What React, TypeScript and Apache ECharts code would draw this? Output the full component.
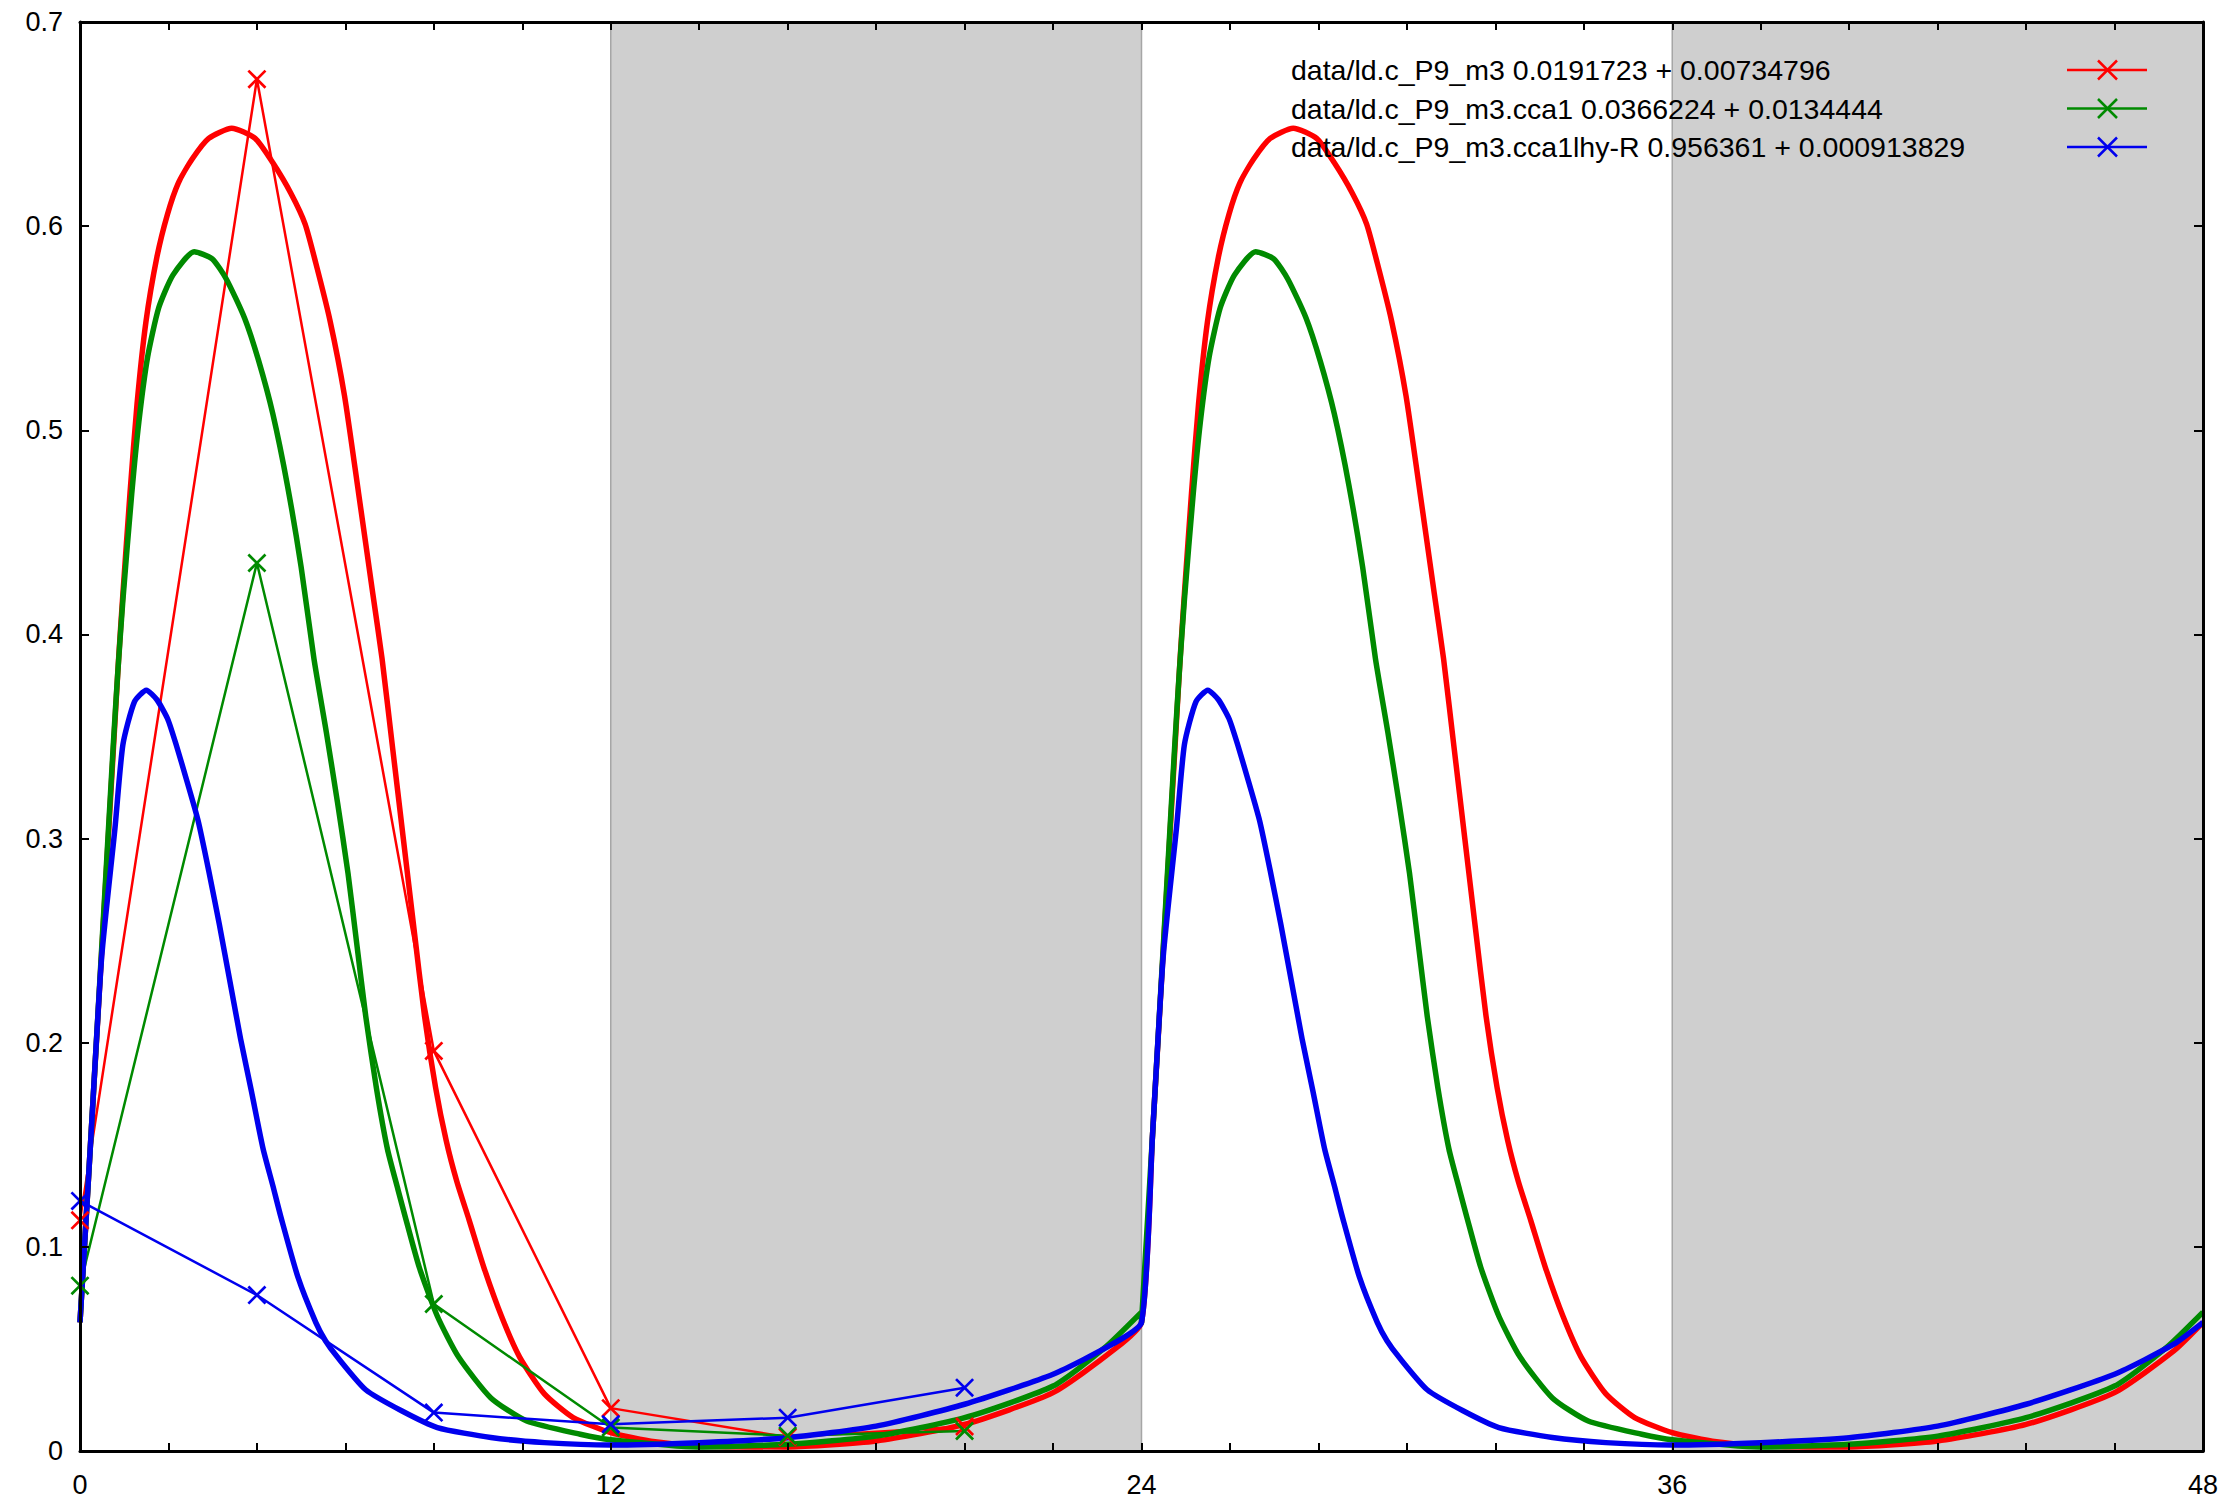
import React, { useEffect, useRef } from "react";
import * as echarts from "echarts";

// ---------- data ----------
const seriesNames = [
  "data/ld.c_P9_m3 0.0191723 + 0.00734796",
  "data/ld.c_P9_m3.cca1 0.0366224 + 0.0134444",
  "data/ld.c_P9_m3.cca1lhy-R 0.956361 + 0.000913829",
];
const seriesColors = ["#ff0000", "#008a00", "#0000ee"];

const sampleHours = [0, 4, 8, 12, 16, 20];
const redSamples = [0.113, 0.672, 0.196, 0.021, 0.0068, 0.012];
const greenSamples = [0.081, 0.435, 0.072, 0.0115, 0.0075, 0.0098];
const blueSamples = [0.1225, 0.0764, 0.0188, 0.0131, 0.0163, 0.031];

// fitted curves, one 24 h period: [hour, value]
const redFitPeriod: [number, number][] = [
  [0, 0.063], [0.25, 0.155], [0.5, 0.248], [0.75, 0.342], [0.87, 0.387], [0.97, 0.42],
  [1.13, 0.469], [1.29, 0.513], [1.49, 0.553], [1.74, 0.585], [1.98, 0.606], [2.22, 0.621],
  [2.54, 0.633], [2.91, 0.643], [3.43, 0.648], [3.96, 0.643], [4.36, 0.631], [4.77, 0.616],
  [5.09, 0.601], [5.33, 0.582], [5.65, 0.554], [5.98, 0.517], [6.3, 0.469], [6.62, 0.42],
  [6.83, 0.388], [7.07, 0.344], [7.31, 0.3], [7.55, 0.256], [7.79, 0.213], [8.04, 0.178],
  [8.28, 0.152], [8.52, 0.132], [8.8, 0.113], [9.13, 0.09], [9.53, 0.066], [9.94, 0.046],
  [10.5, 0.028], [11.15, 0.0164], [12, 0.009], [13, 0.0045], [14, 0.0025], [16, 0.002],
  [18, 0.0049], [20, 0.013], [22, 0.0286], [23.34, 0.049], [24, 0.063],
];
const greenFitPeriod: [number, number][] = [
  [0, 0.063], [0.25, 0.155], [0.5, 0.25], [0.75, 0.345], [0.85, 0.38], [0.97, 0.417],
  [1.17, 0.469], [1.33, 0.504], [1.53, 0.536], [1.78, 0.56], [2.1, 0.576], [2.58, 0.5875],
  [2.99, 0.584], [3.31, 0.574], [3.72, 0.555], [4.04, 0.534], [4.36, 0.508], [4.69, 0.473],
  [5.0, 0.433], [5.29, 0.388], [5.57, 0.352], [5.82, 0.318], [6.06, 0.283], [6.26, 0.248],
  [6.46, 0.213], [6.7, 0.178], [6.95, 0.148], [7.19, 0.128], [7.35, 0.115], [7.67, 0.09],
  [8.08, 0.066], [8.56, 0.046], [9.29, 0.026], [10.1, 0.0147], [11.31, 0.0082], [12, 0.0055],
  [14, 0.002], [16, 0.0033], [18, 0.0073], [20, 0.0163], [22, 0.0318], [23.17, 0.0506],
  [24, 0.068],
];
const blueFitPeriod: [number, number][] = [
  [0, 0.063], [0.25, 0.155], [0.49, 0.242], [0.79, 0.305], [0.97, 0.346], [1.23, 0.367],
  [1.5, 0.3727], [1.74, 0.368], [1.98, 0.3587], [2.18, 0.3456], [2.42, 0.328], [2.67, 0.3088],
  [2.91, 0.2843], [3.15, 0.258], [3.39, 0.23], [3.63, 0.202], [3.88, 0.1758], [4.14, 0.148],
  [4.36, 0.13], [4.55, 0.114], [4.93, 0.085], [5.33, 0.063], [5.55, 0.054], [5.82, 0.046],
  [6.46, 0.03], [7.27, 0.0197], [8.08, 0.0115], [9.29, 0.0066], [10.5, 0.0041], [12, 0.0029],
  [14, 0.0041], [16, 0.0065], [18, 0.0122], [20, 0.0229], [22, 0.0376], [23.34, 0.0523],
  [24, 0.063],
];
const periodStarts = [0, 24];

const darkPhases: [number, number][] = [
  [12, 24],
  [36, 48],
];

const xLabelHours = [0, 12, 24, 36, 48];
const yTickLabels = ["0", "0.1", "0.2", "0.3", "0.4", "0.5", "0.6", "0.7"];

// ---------- helpers ----------
const crossPath = "path://M0,1L1,0L10,9L9,10ZM9,0L10,1L1,10L0,9Z";
const FONT = "Liberation Sans, Arial, Helvetica, sans-serif";

function expand(period: [number, number][]) {
  const out: [number, number][] = [];
  periodStarts.forEach((s) => period.forEach(([h, v]) => out.push([h + s, v])));
  return out;
}

export default function App() {
  const ref = useRef<HTMLDivElement>(null);
  useEffect(() => {
    if (!ref.current) return;
    const chart = echarts.init(ref.current, undefined, { renderer: "svg" });

    const samples = [redSamples, greenSamples, blueSamples];
    const fits = [redFitPeriod, greenFitPeriod, blueFitPeriod];

    const series: any[] = [
      {
        type: "line",
        data: [],
        silent: true,
        markArea: {
          silent: true,
          itemStyle: { color: "#cfcfcf", borderColor: "#a6a6a6", borderWidth: 1.5 },
          data: darkPhases.map(([a, b]) => [{ xAxis: a }, { xAxis: b }]),
        },
      },
    ];
    samples.forEach((vals, i) => {
      series.push({
        name: seriesNames[i],
        type: "line",
        data: sampleHours.map((h, k) => [h, vals[k]]),
        symbol: crossPath,
        symbolSize: 19,
        showAllSymbol: true,
        lineStyle: { color: seriesColors[i], width: 2.5 },
        itemStyle: { color: seriesColors[i] },
        clip: false,
      });
      series.push({
        type: "line",
        data: expand(fits[i]),
        symbol: "none",
        smooth: 0.2,
        lineStyle: { color: seriesColors[i], width: 5.5, join: "round" },
        clip: true,
      });
    });

    const legendRowY = [70, 108.5, 147];
    const graphics: any[] = [];
    seriesNames.forEach((name, i) => {
      const y = legendRowY[i];
      graphics.push({
        type: "text",
        x: 1291,
        y,
        z: 100,
        style: {
          text: name,
          fill: "#000",
          font: `28.5px ${FONT}`,
          textVerticalAlign: "middle",
          verticalAlign: "middle",
        },
      });
      graphics.push({
        type: "line",
        z: 100,
        shape: { x1: 2067, y1: y, x2: 2147, y2: y },
        style: { stroke: seriesColors[i], lineWidth: 2.5 },
      });
      graphics.push({
        type: "line",
        z: 100,
        shape: { x1: 2098, y1: y - 9.5, x2: 2117, y2: y + 9.5 },
        style: { stroke: seriesColors[i], lineWidth: 2.5 },
      });
      graphics.push({
        type: "line",
        z: 100,
        shape: { x1: 2098, y1: y + 9.5, x2: 2117, y2: y - 9.5 },
        style: { stroke: seriesColors[i], lineWidth: 2.5 },
      });
    });

    const axisLine = { show: true, onZero: false, lineStyle: { color: "#000", width: 3 } };
    const xCommon = {
      type: "value",
      min: 0,
      max: 48,
      interval: 2,
      splitLine: { show: false },
      axisLine,
      axisTick: { show: true, inside: true, length: 8, lineStyle: { color: "#000", width: 2 } },
      z: 10,
    };
    const yCommon = {
      type: "value",
      min: 0,
      max: 0.7,
      interval: 0.1,
      splitLine: { show: false },
      axisLine,
      axisTick: { show: true, inside: true, length: 9, lineStyle: { color: "#000", width: 2 } },
      z: 10,
    };

    chart.setOption({
      animation: false,
      backgroundColor: "#ffffff",
      grid: { left: 80, right: 35, top: 22, bottom: 57, containLabel: false },
      xAxis: [
        {
          ...xCommon,
          position: "bottom",
          axisLabel: {
            show: true,
            margin: 20,
            fontSize: 27,
            fontFamily: FONT,
            color: "#000",
            showMinLabel: true,
            showMaxLabel: true,
            hideOverlap: false,
            formatter: (v: number) => (xLabelHours.includes(Math.round(v)) ? String(Math.round(v)) : ""),
          },
        },
        { ...xCommon, position: "top", axisLabel: { show: false } },
      ],
      yAxis: [
        {
          ...yCommon,
          position: "left",
          axisLabel: {
            show: true,
            margin: 17,
            fontSize: 27,
            fontFamily: FONT,
            color: "#000",
            formatter: (v: number) => yTickLabels[Math.round(v * 10)] ?? "",
          },
        },
        { ...yCommon, position: "right", axisLabel: { show: false } },
      ],
      series,
      graphic: graphics,
    });
    return () => chart.dispose();
  }, []);

  return (
    <div
      ref={ref}
      style={{ position: "fixed", left: 0, top: 0, width: "2238px", height: "1508px", background: "#fff" }}
    />
  );
}
